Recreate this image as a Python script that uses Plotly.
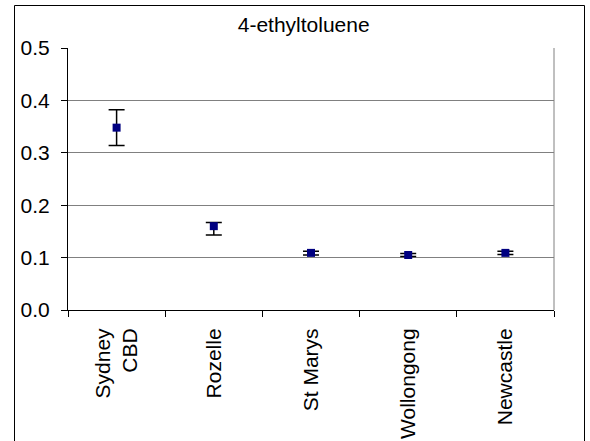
import plotly.graph_objects as go

sites = ["Sydney<br>CBD", "Rozelle", "St Marys", "Wollongong", "Newcastle"]
means = [0.348, 0.160, 0.109, 0.105, 0.109]
err_plus = [0.034, 0.007, 0.003, 0.003, 0.003]
err_minus = [0.034, 0.017, 0.004, 0.003, 0.003]
y_ticks = [0.0, 0.1, 0.2, 0.3, 0.4, 0.5]
title_text = "4-ethyltoluene"

W, H = 590, 441
L, R, T, B = 68, 36, 48, 131
pw, ph = W - L - R, H - T - B
FONT = "Liberation Sans, Arial, sans-serif"

fig = go.Figure()
fig.add_trace(go.Scatter(
    x=sites, y=means, mode="markers",
    marker=dict(symbol="square", size=8, color="#000080", line=dict(width=0)),
    error_y=dict(type="data", symmetric=False, array=err_plus, arrayminus=err_minus,
                 color="black", thickness=1.5, width=8),
    showlegend=False,
))

def px_x(p):
    return (p - L) / pw

def px_y(p):
    return (H - B - p) / ph

fig.update_layout(
    width=W, height=H,
    margin=dict(l=L, r=R, t=T, b=B, pad=0, autoexpand=False),
    paper_bgcolor="white", plot_bgcolor="white",
    font=dict(family=FONT, size=21, color="black"),
    title=dict(text=title_text, x=303.7 / W, xanchor="center", xref="container",
               y=1 - 25 / H, yanchor="middle", yref="container", automargin=False,
               font=dict(family=FONT, size=21, color="black")),
    xaxis=dict(type="category", tickson="boundaries", ticks="outside", ticklen=6,
               tickcolor="black", tickwidth=1, showline=True, linecolor="black",
               linewidth=1, showgrid=False, tickangle=-90, range=[-0.5, 4.5],
               ticklabelstandoff=9, automargin=False,
               tickfont=dict(family=FONT, size=21, color="black")),
    yaxis=dict(range=[0, 0.5], tickvals=y_ticks, tickformat=".1f", ticks="outside",
               ticklen=6, tickcolor="black", tickwidth=1, showline=True,
               linecolor="black", linewidth=1, showgrid=True, gridcolor="#808080",
               gridwidth=1, zeroline=False, ticklabelstandoff=7, automargin=False,
               tickfont=dict(family=FONT, size=21, color="black")),
    shapes=[
        dict(type="line", xref="paper", yref="paper", x0=1, x1=1, y0=0, y1=1,
             line=dict(color="#808080", width=1)),
        dict(type="rect", xref="paper", yref="paper",
             x0=px_x(14.5), x1=px_x(584.5), y0=px_y(5.5), y1=px_y(448),
             line=dict(color="black", width=1), fillcolor="rgba(0,0,0,0)", layer="below"),
    ],
)

fig.write_html("out.html", config={"displayModeBar": False},
               post_script="document.body.style.margin='0';document.body.style.overflow='hidden';")
